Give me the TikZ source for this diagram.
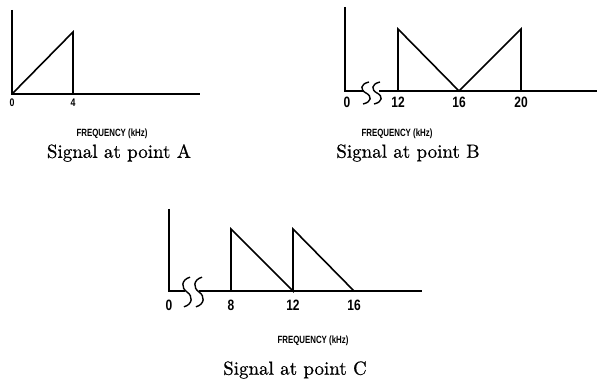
\documentclass[tikz,border=0pt]{standalone}
\usepackage{fontspec}
\newfontfamily\freqfont[FakeStretch=0.75]{Liberation Sans}
\newfontfamily\tickfont[FakeStretch=0.8]{Liberation Sans}
\newfontfamily\sigfont[UprightFeatures={FakeBold=0.6}]{lmroman10-regular.otf}
\begin{document}
\begin{tikzpicture}[x=1pt,y=-1pt,
  line width=1.6pt, line join=miter,
  plot/.style={line width=1.6pt},
  ticklab/.style={font=\tickfont\bfseries\fontsize{15}{15}\selectfont, inner sep=0pt},
  ticklabA/.style={font=\tickfont\bfseries\fontsize{11}{11}\selectfont, inner sep=0pt},
  freqlab/.style={font=\freqfont\bfseries\fontsize{10.5}{10.5}\selectfont, inner sep=0pt},
  siglab/.style={font=\sigfont\fontsize{19}{19}\selectfont, inner sep=0pt},
  brk/.pic={\draw[line width=1.4pt] (3,-11) .. controls (-6,-9) and (-6,-3) .. (0,0) .. controls (6,3) and (6,9) .. (-3,11);}
]
\useasboundingbox (0,0) rectangle (598,385);

% ---------- Graph A ----------
\coordinate (aTop) at (12,10);
\coordinate (aO) at (12,94);
\coordinate (aEnd) at (200,94);
\coordinate (a4) at (73,94);
\coordinate (a4t) at (73,32);
\draw[plot] (aTop) -- (aO) -- (aEnd);
\draw[plot] (aO) -- (a4t) -- (a4);
\node[ticklabA] (la0) at (12,103) {0};
\node[ticklabA] (la4) at (73,103) {4};
\node[freqlab] (fa) at (112,134) {FREQUENCY (kHz)};
\node[siglab] (sa) at (119,153) {Signal at point A};

% ---------- Graph B ----------
\coordinate (bTop) at (345,7);
\coordinate (bO) at (345,91);
\coordinate (bB1) at (364,91);
\coordinate (bB2) at (379,91);
\coordinate (bEnd) at (597,91);
\coordinate (b12) at (398,91);
\coordinate (b12t) at (398,29);
\coordinate (b16) at (459,91);
\coordinate (b20t) at (521,29);
\coordinate (b20) at (521,91);
\draw[plot] (bTop) -- (bO) -- (bB1);
\draw[plot] (bB2) -- (bEnd);
\draw[plot] (b12) -- (b12t) -- (b16) -- (b20t) -- (b20);
\pic at (366,93) {brk};
\pic at (377,93) {brk};
\node[ticklab] (lb0) at (347,102) {0};
\node[ticklab] (lb12) at (398,102) {12};
\node[ticklab] (lb16) at (459,102) {16};
\node[ticklab] (lb20) at (521,102) {20};
\node[freqlab] (fb) at (397,134) {FREQUENCY (kHz)};
\node[siglab] (sb) at (408,153) {Signal at point B};

% ---------- Graph C ----------
\coordinate (cTop) at (169,209);
\coordinate (cO) at (169,291);
\coordinate (cB1) at (185,291);
\coordinate (cB2) at (199,291);
\coordinate (cEnd) at (422,291);
\coordinate (c8) at (231,291);
\coordinate (c8t) at (231,229);
\coordinate (c12) at (293,291);
\coordinate (c12t) at (293,229);
\coordinate (c16) at (354,291);
\draw[plot] (cTop) -- (cO) -- (cB1);
\draw[plot] (cB2) -- (cEnd);
\draw[plot] (c8) -- (c8t) -- (c12) -- (c12t) -- (c16);
\pic[yscale=1.35] at (187,292) {brk};
\pic[yscale=1.35] at (199,292) {brk};
\node[ticklab] (lc0) at (169,305) {0};
\node[ticklab] (lc8) at (231,305) {8};
\node[ticklab] (lc12) at (293,305) {12};
\node[ticklab] (lc16) at (354,305) {16};
\node[freqlab] (fc) at (313,341) {FREQUENCY (kHz)};
\node[siglab] (sc) at (295,370) {Signal at point C};
\end{tikzpicture}
\end{document}
